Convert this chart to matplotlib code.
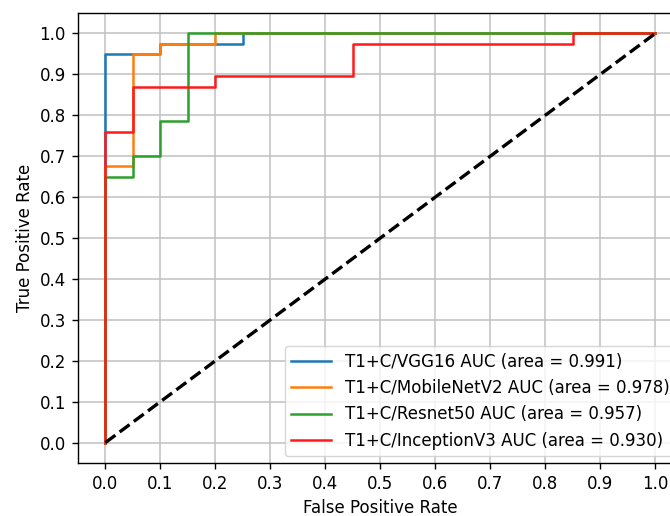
import matplotlib
matplotlib.use("Agg")
import matplotlib.pyplot as plt

plt.rcParams['font.size'] = 12
plt.rcParams['axes.linewidth'] = 1.0
for a in ('xtick', 'ytick'):
    plt.rcParams[a + '.major.size'] = 4.2
    plt.rcParams[a + '.major.pad'] = 4.6
    plt.rcParams[a + '.major.width'] = 1.0

# ROC curve points
vgg_fpr = [0.0, 0.0, 0.1, 0.1, 0.25, 0.25, 1.0]
vgg_tpr = [0.0, 0.95, 0.95, 0.975, 0.975, 1.0, 1.0]

mobile_fpr = [0.0, 0.0, 0.05, 0.05, 0.1, 0.1, 0.2, 0.2, 1.0]
mobile_tpr = [0.0, 0.675, 0.675, 0.95, 0.95, 0.975, 0.975, 1.0, 1.0]

resnet_fpr = [0.0, 0.0, 0.05, 0.05, 0.1, 0.1, 0.15, 0.15, 1.0]
resnet_tpr = [0.0, 0.65, 0.65, 0.70, 0.70, 0.786, 0.786, 1.0, 1.0]

incep_fpr = [0.0, 0.0, 0.05, 0.05, 0.2, 0.2, 0.45, 0.45, 0.85, 0.85, 1.0]
incep_tpr = [0.0, 0.76, 0.76, 0.868, 0.868, 0.895, 0.895, 0.975, 0.975, 1.0, 1.0]

labels = ['T1+C/VGG16 AUC (area = 0.991)',
          'T1+C/MobileNetV2 AUC (area = 0.978)',
          'T1+C/Resnet50 AUC (area = 0.957)',
          'T1+C/InceptionV3 AUC (area = 0.930)']

fig = plt.figure(figsize=(6.7, 5.16), dpi=100)
# axes runs past the right edge, like the cropped original
ax = fig.add_axes([0.1164, 0.1027, 0.9026, 0.8721])

ax.plot(vgg_fpr, vgg_tpr, color='#1f77b4', lw=1.8, label=labels[0])
ax.plot(mobile_fpr, mobile_tpr, color='#ff7f0e', lw=1.8, label=labels[1])
ax.plot(resnet_fpr, resnet_tpr, color='#2ca02c', lw=1.8, label=labels[2])
ax.plot(incep_fpr, incep_tpr, color='#ff1a1a', lw=1.8, label=labels[3])
ax.plot([0, 1], [0, 1], 'k--', lw=2.4)

ax.set_xlim(-0.05, 1.05)
ax.set_ylim(-0.05, 1.05)
ax.set_xticks([i / 10 for i in range(11)])
ax.set_yticks([i / 10 for i in range(11)])
ax.set_xlabel('False Positive Rate')
ax.set_ylabel('True Positive Rate')
ax.grid(True, color='#c0c0c0', lw=1.1)
ax.set_axisbelow(True)

ax.legend(loc='lower right', fontsize=12, borderaxespad=0.4, handlelength=2.4)

fig.savefig('out.png', dpi=100)
